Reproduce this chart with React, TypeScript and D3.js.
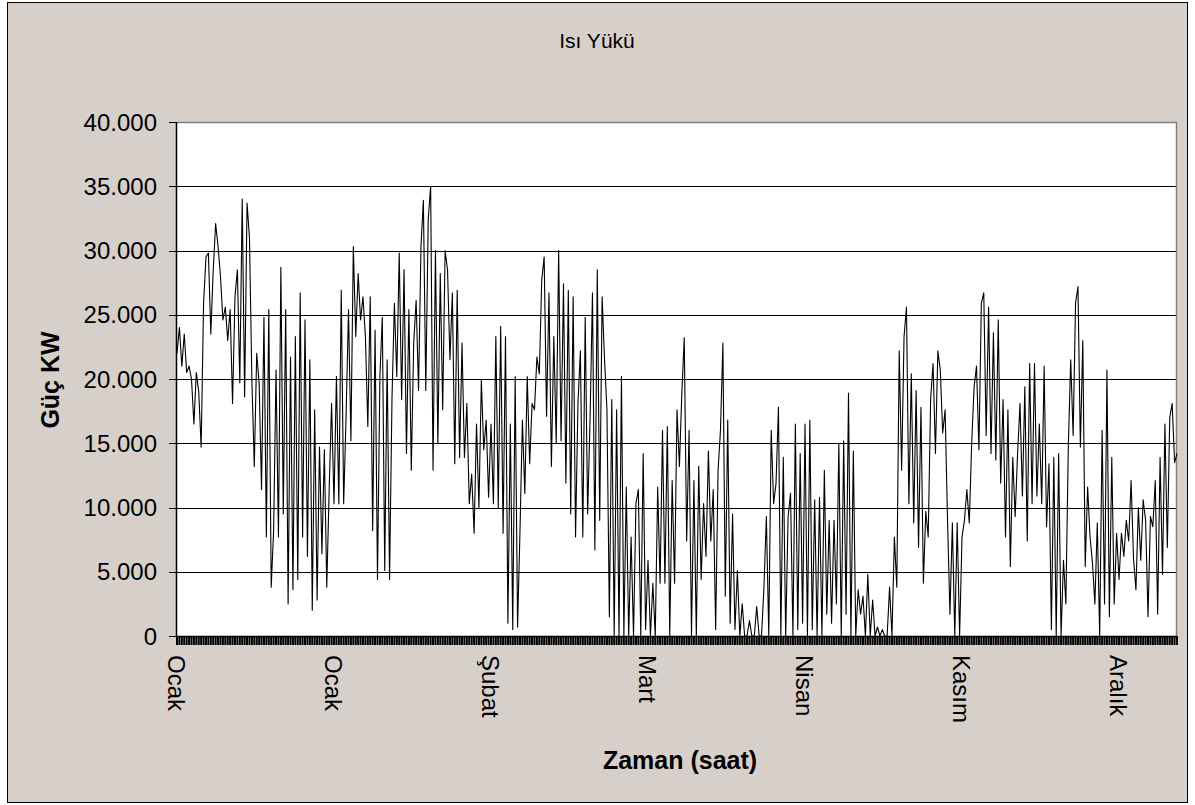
import React from "react";
import * as d3 from "d3";

// hourly heat load (kW)
const heatLoad: number[] = [
  // Ocak (1)
  22000, 24000, 21000, 23500, 20500,
  21000, 20000, 16500, 20500, 19000, 14700,
  25900, 29500, 29800, 23500, 28500, 32100,
  30300, 28000, 24600, 25600, 23000,
  25400, 18100, 26400, 28500, 19700,
  34000, 18600, 33700, 31000, 19900,
  13200, 22000, 19700, 11400, 24800, 7700,
  25400, 3800, 8200, 20700, 7700,
  28700, 9500, 25400, 2500, 21700,
  3600, 23300, 4400, 26700, 7700,
  24600, 6200, 21500, 2000, 17600,
  2800, 14700, 6400, 14500, 3800,
  11400, 18100, 10300, 20200, 10300,
  26900, 10300, 17100, 25400, 15200,
  30300, 23300, 28200, 24600,
  26400, 23300, 16300, 26400, 8200, 23800, 4400, 20200,
  // Ocak (2)
  24800, 5100, 21500, 4400, 18400,
  25900, 20200, 29800, 18400, 28500, 14200,
  25400, 12900, 22800, 26100, 19100, 30300,
  33900, 19100, 32400, 35000, 12900,
  30000, 15000, 28200, 17600, 30000,
  28500, 21500, 26700, 13400, 26900,
  13900, 22800, 13900, 18100, 10300,
  12600, 8000, 16500, 10000, 19900,
  14500, 16800, 10800, 16500, 10300,
  23300, 10000, 24100, 8000, 23300,
  1000, 16500, 500, 20200, 700,
  8200, 16800, 11100, 20200, 13400, 18100,
  17600, 21700, 20400, 27700, 29500, 17100,
  26700, 13200, 23300, 15000, 30000,
  15200, 27400, 11900, 26900, 9500, 26400, 7700,
  // Şubat / Mart
  18100, 22200, 7700, 24800, 9500, 16800,
  26700, 6700, 28500, 9000, 26400, 21500,
  17600, 1500, 18400, 0, 17600, 0,
  20200, 0, 11600, 0, 7700, 0,
  10300, 11400, 0, 14200, 500, 5900,
  0, 4100, 0, 11600, 4100,
  16000, 4100, 16300, 0, 12100,
  4100, 17600, 13200, 18900, 23200,
  7400, 16000, 0, 12100, 0,
  13200, 4400, 10300, 6200, 14400,
  7400, 11400, 500, 12900, 16000,
  22800, 3100, 16800, 1000, 9500,
  500, 5100, 0, 2500, 0,
  0, 1200, 0, 0, 2300, 0, 0,
  3800, 9300, 0, 16000, 10300,
  // Nisan / Kasım
  11900, 17800, 0, 13900, 0, 9300,
  11100, 0, 16500, 500, 14200,
  1000, 16500, 0, 16800, 500, 10600,
  0, 10800, 0, 12900, 1700,
  9000, 1000, 9000, 2500, 15000,
  0, 15200, 1700, 18900, 0, 14400,
  0, 3600, 1700, 3100, 0, 4800,
  0, 2800, 0, 700, 0,
  500, 0, 0, 3800, 0, 7700,
  3800, 22200, 12900, 23300, 25600,
  10300, 20400, 8800, 19100, 6900, 17800,
  4100, 9700, 7700, 18400, 21200, 14200,
  22200, 20700, 15800, 17600, 9000,
  1700, 8800, 0, 8800, 0, 7700,
  9000, 11400, 8800, 15000, 19400, 21000,
  // Kasım / Aralık
  14500, 25900, 26700, 15600, 25600, 14200,
  23600, 13700, 24600, 11900, 18400, 7700,
  17600, 5400, 13900, 9300, 14200,
  18100, 10900, 19400, 7400, 21200,
  10300, 21200, 10900, 16500, 10300, 21000,
  8500, 13400, 500, 13900, 0,
  14200, 0, 5900, 2500, 14700,
  21500, 15600, 25900, 27200, 14700, 23000,
  5400, 11600, 7700, 5700, 2500,
  8800, 0, 16000, 2500, 20700,
  1500, 13900, 2500, 8000, 4400,
  8000, 6200, 9000, 7400, 12100, 6000, 3600,
  10000, 5900, 10600, 9000, 1500,
  9300, 8500, 12100, 1700, 13900,
  4800, 16500, 6900, 17000, 18100, 13500, 14200,
];

const monthLabels = ["Ocak", "Ocak", "Şubat", "Mart", "Nisan", "Kasım", "Aralık"];
const labelEvery = 65;
const yTicks = [0, 5000, 10000, 15000, 20000, 25000, 30000, 35000, 40000];

const FONT = "'Liberation Sans', Arial, sans-serif";

export default function App() {
  const left = 177, right = 1177, top = 122, bottom = 636;

  const x = d3.scaleLinear().domain([0, heatLoad.length - 1]).range([left, right]);
  const y = d3.scaleLinear().domain([0, 40000]).range([bottom, top]);

  const line = d3
    .line<number>()
    .x((d, i) => x(i))
    .y((d) => y(d));

  const fmt = d3
    .formatLocale({ decimal: ",", thousands: ".", grouping: [3], currency: ["", ""] })
    .format(",d");

  const catIdx = d3.range(heatLoad.length);

  return (
    <svg
      width={1195}
      height={805}
      style={{ position: "absolute", left: 0, top: 0, display: "block", background: "#fff" }}
      fontFamily={FONT}
    >
      {/* chart area */}
      <rect x={7.5} y={2.5} width={1180} height={800} fill="#d7d0ca" stroke="#000" strokeWidth={1} />

      <text x={597} y={48} textAnchor="middle" fontSize={21} fill="#000">
        Isı Yükü
      </text>

      {/* plot area */}
      <rect x={left} y={top} width={right - left} height={bottom - top} fill="#fff" />

      {/* grid */}
      {yTicks
        .filter((t) => t > 0 && t < 40000)
        .map((t) => (
          <line
            key={"g" + t}
            x1={left}
            x2={right}
            y1={Math.round(y(t)) + 0.5}
            y2={Math.round(y(t)) + 0.5}
            stroke="#000"
            strokeWidth={1}
          />
        ))}

      {/* plot border (gray) */}
      <path
        d={`M${left},${top + 0.5}H${right - 0.5}V${bottom}`}
        fill="none"
        stroke="#808080"
        strokeWidth={1.5}
      />

      {/* series */}
      <path d={line(heatLoad) || ""} fill="none" stroke="#000" strokeWidth={1.1} strokeLinejoin="round" />

      {/* y axis */}
      <line x1={left - 0.5} x2={left - 0.5} y1={top} y2={bottom + 1} stroke="#000" strokeWidth={1.5} />
      {yTicks.map((t) => (
        <g key={"yt" + t}>
          <line
            x1={left - 8}
            x2={left}
            y1={Math.round(y(t)) + 0.5}
            y2={Math.round(y(t)) + 0.5}
            stroke="#000"
            strokeWidth={1}
          />
          <text x={157} y={y(t)} dy="0.36em" textAnchor="end" fontSize={24} fill="#000">
            {fmt(t)}
          </text>
        </g>
      ))}

      {/* x axis: one tick per category, dense enough to form a band */}
      <line x1={left} x2={right} y1={bottom + 0.5} y2={bottom + 0.5} stroke="#000" strokeWidth={1.5} />
      {catIdx.map((i) => (
        <line
          key={"xt" + i}
          x1={x(i)}
          x2={x(i)}
          y1={bottom}
          y2={bottom + 9}
          stroke="#000"
          strokeWidth={2}
        />
      ))}
      {monthLabels.map((m, k) => {
        const px = x(k * labelEvery);
        return (
          <text
            key={"xl" + k}
            transform={`translate(${px},${655}) rotate(90)`}
            dy="0.36em"
            fontSize={24}
            fill="#000"
          >
            {m}
          </text>
        );
      })}

      {/* axis titles */}
      <text
        transform={`translate(50,380) rotate(-90)`}
        textAnchor="middle"
        dy="0.36em"
        fontSize={25}
        fontWeight="bold"
        fill="#000"
      >
        Güç KW
      </text>
      <text x={680} y={769} textAnchor="middle" fontSize={25} fontWeight="bold" fill="#000">
        Zaman (saat)
      </text>
    </svg>
  );
}
